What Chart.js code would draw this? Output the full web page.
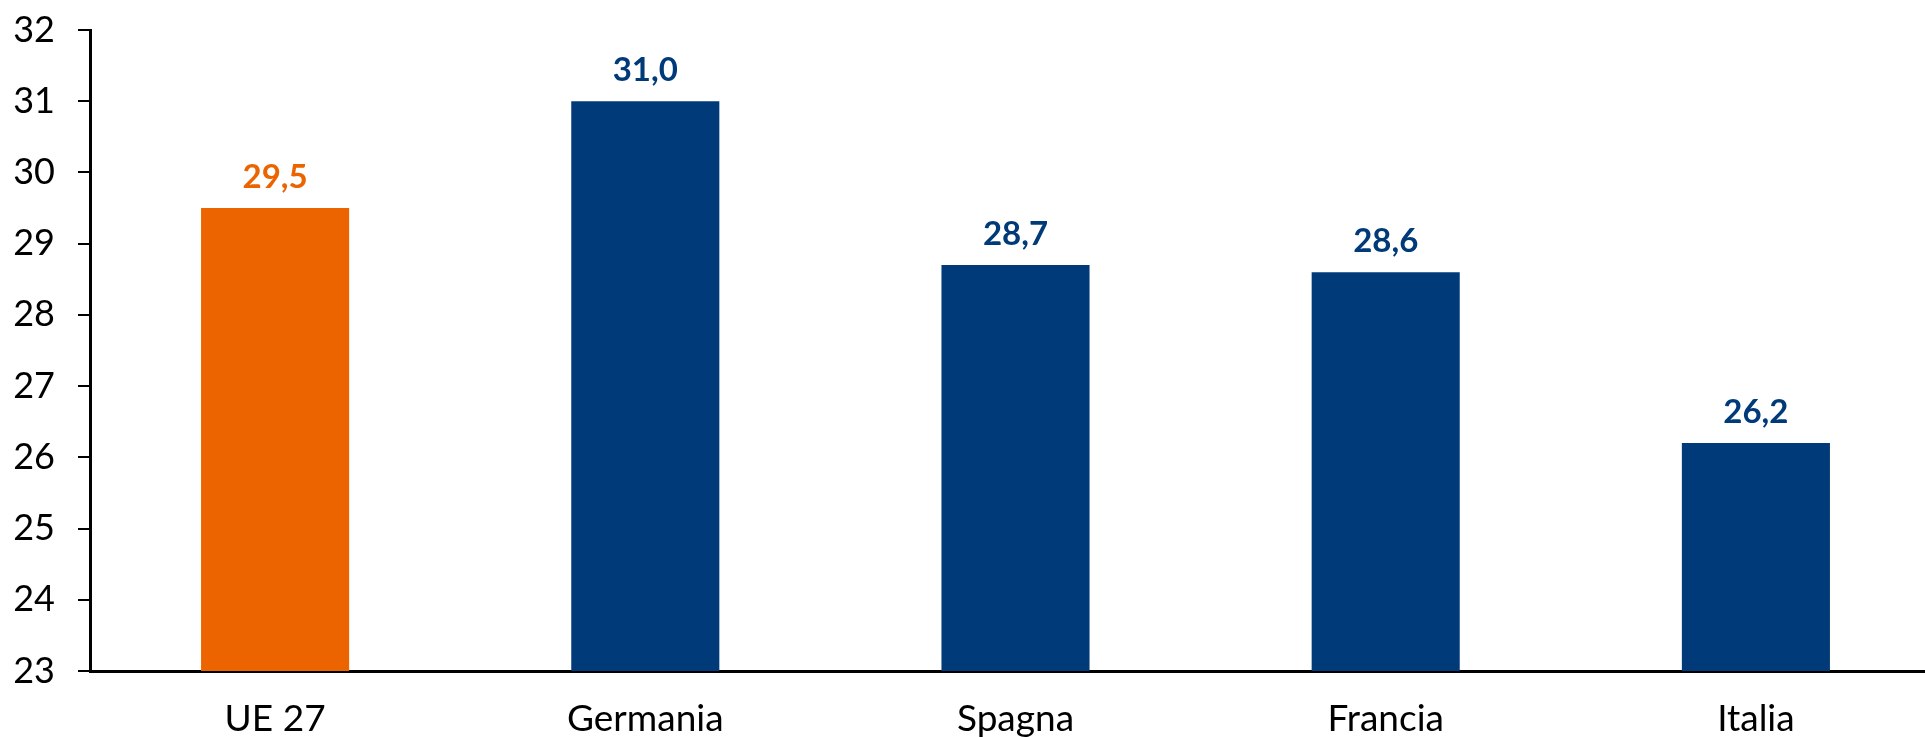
<!DOCTYPE html>
<html>
<head>
<meta charset="utf-8">
<script src="https://cdn.jsdelivr.net/npm/chart.js@4/dist/chart.umd.min.js"></script>
<style>
  html, body { margin: 0; padding: 0; background: #fff; overflow: hidden; }
  #wrap { width: 1941px; height: 737px; }
</style>
</head>
<body>
<div id="wrap"><canvas id="myChart"></canvas></div>
<script>
// categories and values
var paesi = ["UE 27", "Germania", "Spagna", "Francia", "Italia"];
var valori = [29.5, 31.0, 28.7, 28.6, 26.2];
var colori = ['#EC6400', '#003A78', '#003A78', '#003A78', '#003A78'];
var yMin = 23, yMax = 32, yStep = 1;

// draws the value over each bar, with a comma as decimal mark
var etichette = {
    id: 'etichette',
    afterDatasetsDraw: function (chart) {
        var ctx = chart.ctx;
        var meta = chart.getDatasetMeta(0);
        ctx.save();
        ctx.font = 'bold 33px Lato';
        ctx.textAlign = 'center';
        ctx.textBaseline = 'middle';
        meta.data.forEach(function (bar, i) {
            ctx.fillStyle = colori[i];
            ctx.fillText(valori[i].toFixed(1).replace('.', ','), bar.x, bar.y - 31);
        });
        ctx.restore();
    }
};

var ctx = document.getElementById('myChart').getContext('2d');
var chart = new Chart(ctx, {
    type: 'bar',
    data: {
        labels: paesi,
        datasets: [{
            data: valori,
            backgroundColor: colori,
            borderWidth: 0,
            barPercentage: 0.4,
            categoryPercentage: 1
        }]
    },
    options: {
        responsive: true,
        maintainAspectRatio: false,
        animation: false,
        layout: { padding: { top: 30, right: 0, left: 0, bottom: 0 } },
        plugins: {
            legend: { display: false },
            tooltip: { enabled: false }
        },
        scales: {
            x: {
                grid: { display: true, drawOnChartArea: false, drawTicks: false },
                border: { display: true, color: '#000', width: 3 },
                ticks: { color: '#000', font: { family: 'Lato', size: 37 }, padding: 26 },
                afterFit: function (s) { s.height = 66; s.paddingLeft = 0; s.paddingRight = 0; }
            },
            y: {
                min: yMin,
                max: yMax,
                grid: { drawOnChartArea: false, drawTicks: true, tickLength: 12, color: '#000', lineWidth: 2 },
                border: { display: true, color: '#000', width: 3 },
                ticks: { stepSize: yStep, color: '#000', font: { family: 'Lato', size: 36 }, padding: 23 },
                afterFit: function (s) { s.width = 90; s.paddingTop = 0; s.paddingBottom = 0; }
            }
        }
    },
    plugins: [etichette]
});
</script>
</body>
</html>
